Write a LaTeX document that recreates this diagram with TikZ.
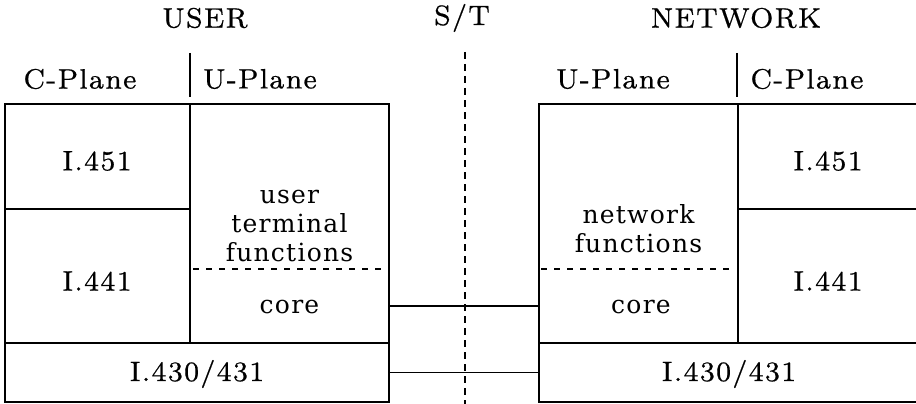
\documentclass[tikz,border=0pt]{standalone}
\usepackage{fontspec}
\setmainfont{lmroman8-regular.otf}[LetterSpace=5, FakeBold=0.6]
\newfontfamily\boxfont{DejaVu Serif}[LetterSpace=5]
\begin{document}
\begin{tikzpicture}[x=1pt, y=-1pt, line width=1.6pt,
  lbl/.style={font=\fontsize{28}{32}\selectfont, inner sep=0pt},
  fn/.style={font=\boxfont\fontsize{25}{29}\selectfont, align=center, inner sep=0pt},
  blk/.style={draw, rectangle, inner sep=0pt},
  area/.style={rectangle, inner sep=0pt},
  split/.style={line width=1.2pt, dash pattern=on 6pt off 7pt},
  stline/.style={line width=1.3pt, dash pattern=on 7pt off 5pt},
  hsep/.style={line width=1.2pt},
  link/.style={line width=1.4pt}]
\useasboundingbox (0,0) rectangle (916,404);

% column headings
\node[lbl] (user) at (205,18) {USER};
\node[lbl] (st)   at (462,18) {S/T};
\node[lbl] (net)  at (736,18) {NETWORK};

\node[lbl] (cpL) at (80,79)  {C-Plane};
\node[lbl] (upL) at (260,79) {U-Plane};
\node[lbl] (upR) at (613,79) {U-Plane};
\node[lbl] (cpR) at (807,79) {C-Plane};
\coordinate (sepLt) at (190,53);  \coordinate (sepLb) at (190,97);
\coordinate (sepRt) at (737,53);  \coordinate (sepRb) at (737,97);
\draw[hsep] (sepLt) -- (sepLb);
\draw[hsep] (sepRt) -- (sepRb);

% user side stack
\node[blk, minimum width=185pt, minimum height=105pt] (c451L) at (97.5,156.5) {};
\node[blk, minimum width=185pt, minimum height=134pt] (c441L) at (97.5,276) {};
\node[blk, minimum width=199pt, minimum height=239pt] (uL) at (289.5,223.5) {};
\node[blk, minimum width=384pt, minimum height=59pt] (l1L) at (197,372.5) {};
\node[lbl] at (97,161) {I.451};
\node[lbl] at (97,281) {I.441};
\node[lbl] (t430L) at (197,374) {I.430/431};
\node[fn] (utf) at (289.5,226) {user\\terminal\\functions};
\coordinate (dLa) at (193,269); \coordinate (dLb) at (384,269);
\draw[split] (dLa) -- (dLb);
\node[area, minimum width=199pt, minimum height=74pt] (coreL) at (289.5,306) {};
\node[fn] at (289.5,307) {core};

% network side stack
\node[blk, minimum width=199pt, minimum height=239pt] (uR) at (638.5,223.5) {};
\node[blk, minimum width=192pt, minimum height=105pt] (c451R) at (834,156.5) {};
\node[blk, minimum width=192pt, minimum height=134pt] (c441R) at (834,276) {};
\node[blk, minimum width=391pt, minimum height=59pt] (l1R) at (734.5,372.5) {};
\node[lbl] at (828,161) {I.451};
\node[lbl] at (828,281) {I.441};
\node[lbl] (t430R) at (729,374) {I.430/431};
\node[fn] (nf) at (638.5,229) {network\\functions};
\coordinate (dRa) at (541,269); \coordinate (dRb) at (731,269);
\draw[split] (dRa) -- (dRb);
\node[area, minimum width=199pt, minimum height=74pt] (coreR) at (638.5,306) {};
\node[fn] at (641,307) {core};

% S/T reference point
\coordinate (sttop) at (465,52);
\coordinate (stbot) at (465,404);
\draw[stline] (sttop) -- (stbot);

% links across the reference point
\draw[link] (coreL.east) -- (coreR.west);
\draw[link] (l1L.east) -- (l1R.west);
\end{tikzpicture}
\end{document}
